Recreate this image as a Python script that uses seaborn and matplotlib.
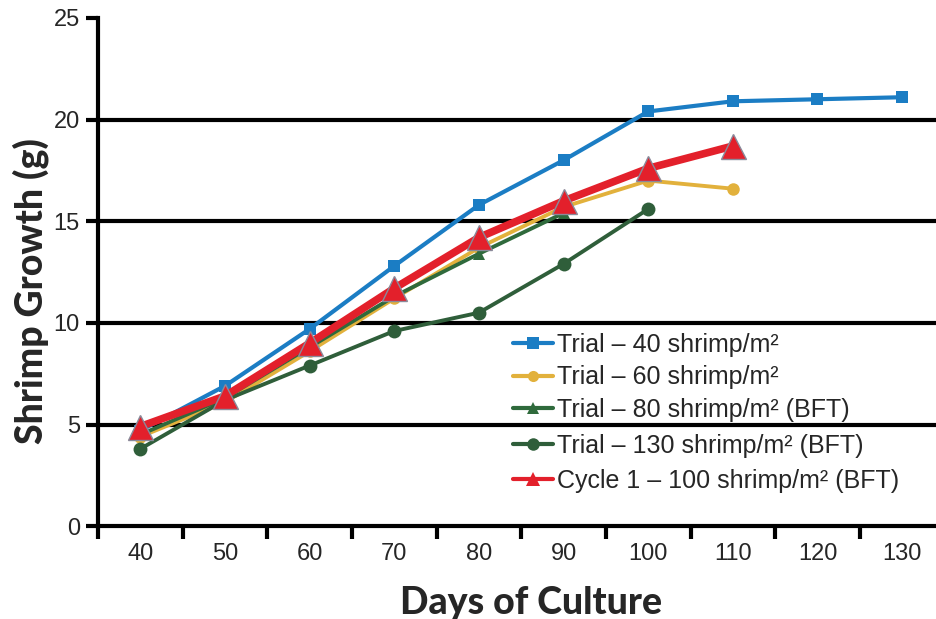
import pandas as pd
import numpy as np
import matplotlib
matplotlib.use("Agg")
import matplotlib.pyplot as plt
from matplotlib.lines import Line2D
import seaborn as sns

# ── Data ──────────────────────────────────────────────────────────────────────
days = [40, 50, 60, 70, 80, 90, 100, 110, 120, 130]

trial_40 = [4.7, 6.9, 9.7, 12.8, 15.8, 18.0, 20.4, 20.9, 21.0, 21.1]
trial_60 = [4.4, 6.1, 8.6, 11.2, 13.7, 15.7, 17.0, 16.6]
trial_80 = [4.5, 6.3, 8.8, 11.3, 13.4, 15.4]
trial_130 = [3.8, 6.2, 7.9, 9.6, 10.5, 12.9, 15.6]
cycle_100 = [4.9, 6.4, 9.0, 11.7, 14.2, 16.0, 17.6, 18.7]

labels = [
    "Trial – 40 shrimp/m²",
    "Trial – 60 shrimp/m²",
    "Trial – 80 shrimp/m² (BFT)",
    "Trial – 130 shrimp/m² (BFT)",
    "Cycle 1 – 100 shrimp/m² (BFT)",
]

x_labels = ["40", "50", "60", "70", "80", "90", "100", "110", "120", "130"]
y_ticks = [0, 5, 10, 15, 20, 25]

# ── Styles ───────────────────────────────────────────────────────────────────
series = [trial_40, trial_60, trial_80, trial_130, cycle_100]
colors = ["#1b7dc4", "#e2b13c", "#2f6a3c", "#2f5e3a", "#e3202b"]
markers = ["s", "o", "^", "o", "^"]
msizes = [9, 9, 8, 10, 18]
lwidths = [3.0, 2.8, 2.8, 2.8, 5.5]
medges = [None, None, None, None, "#8a8a9a"]

sns.set_theme(style="white")
plt.rcParams["font.family"] = ["Liberation Sans", "DejaVu Sans"]

fig = plt.figure(figsize=(9.36, 6.19), dpi=100)
ax = fig.add_axes([0.1047, 0.150, 0.8953, 0.821])

# horizontal rules behind the data
for yv in [5, 10, 15, 20]:
    ax.axhline(yv, color="black", lw=3, zorder=1)

for vals, c, m, ms, lw, me in zip(series, colors, markers,
                                  msizes, lwidths, medges):
    df = pd.DataFrame({"day": days[:len(vals)], "growth": vals})
    sns.lineplot(data=df, x="day", y="growth", ax=ax, color=c, marker=m,
                 markersize=ms, linewidth=lw, markeredgewidth=1 if me else 0,
                 markeredgecolor=me if me else c, zorder=3, legend=False)

# ── Axes ─────────────────────────────────────────────────────────────────────
ax.set_xlim(35, 134)
ax.set_ylim(0, 25)
ax.set_xticks(days)
ax.set_xticklabels(x_labels, fontsize=17)
ax.set_xticks([35, 45, 55, 65, 75, 85, 95, 105, 115, 125], minor=True)
ax.set_yticks(y_ticks)
ax.set_yticklabels([str(v) for v in y_ticks], fontsize=17)
ax.tick_params(axis="x", which="major", length=0, pad=12)
ax.tick_params(axis="x", which="minor", length=9, width=3, direction="out",
               bottom=True, color="black")
ax.tick_params(axis="y", which="major", length=9, width=3, direction="out",
               left=True, color="black", pad=4)

for side in ["top", "right"]:
    ax.spines[side].set_visible(False)
for side in ["left", "bottom"]:
    ax.spines[side].set_color("black")
    ax.spines[side].set_linewidth(3)

ax.set_xlabel("Days of Culture", fontsize=27, fontweight="black",
              family=["Lato", "DejaVu Sans"])
ax.set_ylabel("Shrimp Growth (g)", fontsize=27, fontweight="black",
              family=["Lato", "DejaVu Sans"])
ax.xaxis.set_label_coords(0.517, -0.118)
ax.yaxis.set_label_coords(-0.058, 0.463)

# ── Legends (split around the 5 g rule) ──────────────────────────────────────
leg_sizes = [8, 8, 8, 9, 10]
handles = [Line2D([], [], color=c, marker=m, markersize=s, lw=3,
                  markeredgewidth=0)
           for c, m, s in zip(colors, markers, leg_sizes)]

leg_kw = dict(loc="upper left", frameon=False, fontsize=18,
              handlelength=1.6, handletextpad=0.15,
              borderpad=0, borderaxespad=0)
leg1 = ax.legend(handles[:3], labels[:3], bbox_to_anchor=(0.495, 0.38),
                 labelspacing=0.33, **leg_kw)
ax.add_artist(leg1)
ax.legend(handles[3:], labels[3:], bbox_to_anchor=(0.495, 0.182),
          labelspacing=0.45, **leg_kw)

fig.savefig("out.png", dpi=100)
